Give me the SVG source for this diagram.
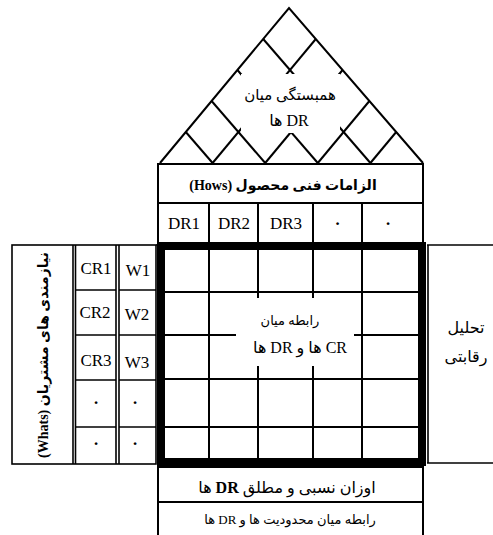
<svg xmlns="http://www.w3.org/2000/svg" width="493" height="535" viewBox="0 0 493 535">
<style>
.ln{stroke:#000;stroke-width:2;fill:none}
.thin{stroke:#000;stroke-width:1.6;fill:none}
.thick{stroke:#000;stroke-width:8;fill:none}
.lat{text-anchor:middle;font-family:"Liberation Serif","DejaVu Sans",serif;fill:#000}
.fa{text-anchor:middle;font-family:"Liberation Serif","DejaVu Sans",sans-serif;fill:#000;direction:rtl;unicode-bidi:embed}
.dot{font-weight:bold}
</style>
<rect x="0" y="0" width="493" height="535" fill="#fff"/>
<g id="roof">
  <polyline class="ln" points="160,163 289,8 423,163"/>
  <g class="ln">
    <line x1="263.2" y1="39" x2="370.4" y2="163"/>
    <line x1="237.4" y1="70" x2="317.8" y2="163"/>
    <line x1="211.6" y1="101" x2="265.2" y2="163"/>
    <line x1="185.8" y1="132" x2="212.6" y2="163"/>
    <line x1="315.8" y1="39" x2="212.6" y2="163"/>
    <line x1="342.6" y1="70" x2="265.2" y2="163"/>
    <line x1="369.4" y1="101" x2="317.8" y2="163"/>
    <line x1="396.2" y1="132" x2="370.4" y2="163"/>
  </g>
  <rect x="241" y="74" width="99" height="59" fill="#fff"/>
  <text class="fa" x="290" y="100" font-size="15">همبستگی میان</text>
  <text class="fa" x="289" y="126" font-size="16">DR ها</text>
</g>
<g id="hows">
  <rect class="ln" x="158" y="164" width="265" height="79"/>
  <line class="ln" x1="158" y1="203" x2="423" y2="203"/>
  <text class="fa" x="283" y="190" font-size="14" font-weight="bold">الزامات فنی محصول (Hows)</text>
</g>
<g id="dr-row">
  <g class="ln">
    <line x1="209" y1="203" x2="209" y2="243"/>
    <line x1="258" y1="203" x2="258" y2="243"/>
    <line x1="313" y1="203" x2="313" y2="243"/>
    <line x1="362" y1="203" x2="362" y2="243"/>
  </g>
  <text class="lat" x="184" y="229" font-size="17">DR1</text>
  <text class="lat" x="234" y="229" font-size="17">DR2</text>
  <text class="lat" x="286" y="229" font-size="17">DR3</text>
  <text class="lat dot" x="337.5" y="229" font-size="17">·</text>
  <text class="lat dot" x="388" y="229" font-size="17">·</text>
</g>
<g id="whats">
  <rect class="thin" x="12" y="245" width="144" height="219"/>
  <line class="thin" x1="156" y1="245" x2="158" y2="245"/>
  <g class="thin">
    <line x1="73" y1="245" x2="73" y2="464"/>
    <line x1="75.5" y1="245" x2="75.5" y2="464"/>
    <line x1="116" y1="245" x2="116" y2="464"/>
    <line x1="119" y1="245" x2="119" y2="464"/>
    <line x1="75.5" y1="290" x2="116" y2="290"/>
    <line x1="119" y1="290" x2="156" y2="290"/>
    <line x1="75.5" y1="335" x2="116" y2="335"/>
    <line x1="119" y1="335" x2="156" y2="335"/>
    <line x1="75.5" y1="380" x2="116" y2="380"/>
    <line x1="119" y1="380" x2="156" y2="380"/>
    <line x1="75.5" y1="427" x2="116" y2="427"/>
    <line x1="119" y1="427" x2="156" y2="427"/>
  </g>
  <text class="fa" transform="translate(48,355) rotate(-90)" font-size="14" font-weight="bold">نیازمندی های مشتریان (Whats)</text>
  <text class="lat" x="96" y="274" font-size="17">CR1</text>
  <text class="lat" x="138" y="276" font-size="17">W1</text>
  <text class="lat" x="95" y="318" font-size="17">CR2</text>
  <text class="lat" x="137" y="320" font-size="17">W2</text>
  <text class="lat" x="96" y="366" font-size="17">CR3</text>
  <text class="lat" x="137" y="368" font-size="17">W3</text>
  <text class="lat dot" x="96" y="408" font-size="17">·</text>
  <text class="lat dot" x="135" y="408" font-size="17">·</text>
  <text class="lat dot" x="96" y="449" font-size="17">·</text>
  <text class="lat dot" x="135" y="449" font-size="17">·</text>
</g>
<g id="matrix">
  <g class="ln">
    <line x1="209" y1="246" x2="209" y2="462"/>
    <line x1="258" y1="246" x2="258" y2="462"/>
    <line x1="313" y1="246" x2="313" y2="462"/>
    <line x1="362" y1="246" x2="362" y2="462"/>
    <line x1="161" y1="292" x2="422" y2="292"/>
    <line x1="161" y1="335" x2="422" y2="335"/>
    <line x1="161" y1="379" x2="422" y2="379"/>
    <line x1="161" y1="427" x2="422" y2="427"/>
  </g>
  <rect x="236" y="298" width="118" height="68" fill="#fff"/>
  <rect class="thick" x="161" y="246" width="261" height="216"/>
  <text class="fa" x="290" y="325" font-size="13">رابطه میان</text>
  <text class="fa" x="300" y="353" font-size="16">CR ها و DR ها</text>
</g>
<g id="competitive">
  <line class="thin" x1="427" y1="245" x2="493" y2="245"/>
  <line class="thin" x1="427" y1="463" x2="493" y2="463"/>
  <line class="thin" x1="428" y1="245" x2="428" y2="463"/>
  <text class="fa" x="466" y="333" font-size="16">تحلیل</text>
  <text class="fa" x="466" y="362" font-size="16">رقابتی</text>
</g>
<g id="weights">
  <rect class="ln" x="158" y="467" width="265" height="35"/>
  <text class="fa" x="287" y="493" font-size="16">اوزان نسبی و مطلق <tspan font-weight="bold">DR</tspan> ها</text>
</g>
<g id="constraints">
  <polyline class="ln" points="158,502 158,536"/>
  <polyline class="ln" points="423,502 423,536"/>
  <text class="fa" x="290" y="524" font-size="13">رابطه میان محدودیت ها و DR ها</text>
</g>
</svg>
